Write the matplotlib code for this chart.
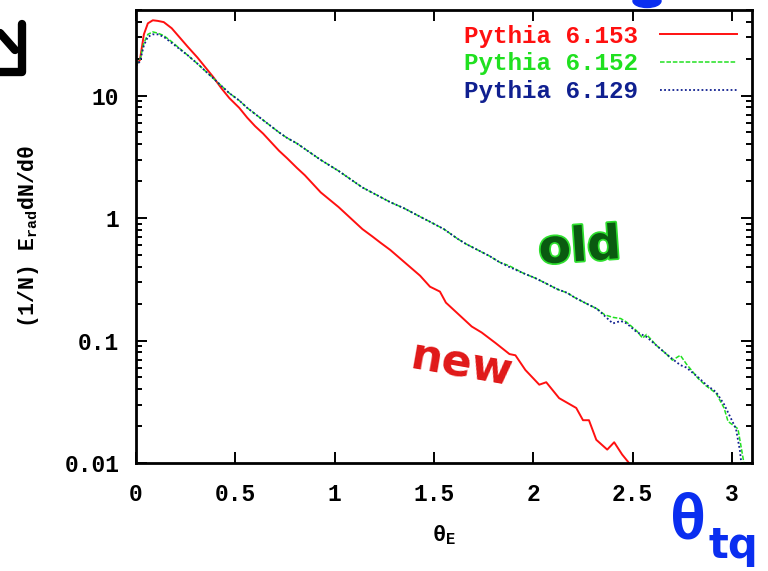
import numpy as np
import matplotlib
matplotlib.use('Agg')
import matplotlib.pyplot as plt
import matplotlib.patheffects as pe
from matplotlib.lines import Line2D
from matplotlib.patches import Ellipse
from matplotlib.ticker import FixedLocator, LogLocator, NullFormatter

plt.rcParams['font.family'] = ['Liberation Mono', 'DejaVu Sans Mono']
plt.rcParams['mathtext.fontset'] = 'custom'
plt.rcParams['mathtext.rm'] = 'Liberation Mono:bold'
plt.rcParams['mathtext.it'] = 'Liberation Mono:bold'

# theta_E and log10 of (1/N) E_rad dN/dtheta for each generator version
theta_new = [0.0, 0.02, 0.04, 0.06, 0.085, 0.11, 0.14, 0.18, 0.22, 0.26,
             0.31, 0.35, 0.39, 0.43, 0.47, 0.52, 0.56, 0.60, 0.64, 0.68,
             0.72, 0.76, 0.81, 0.85, 0.89, 0.93, 0.975, 1.02, 1.06, 1.10,
             1.14, 1.19, 1.23, 1.28, 1.33, 1.38, 1.43, 1.48, 1.53, 1.56,
             1.62, 1.69, 1.74, 1.81, 1.88, 1.91, 1.96, 2.03, 2.065, 2.13,
             2.216, 2.25, 2.28, 2.317, 2.372, 2.407, 2.447, 2.497, 2.55]
logy_new = [1.25, 1.29, 1.50, 1.59, 1.615, 1.61, 1.60, 1.55, 1.475, 1.40,
            1.31, 1.23, 1.15, 1.06, 0.98, 0.90, 0.82, 0.75, 0.69, 0.62,
            0.55, 0.49, 0.41, 0.35, 0.28, 0.21, 0.15, 0.09, 0.03, -0.03,
            -0.09, -0.15, -0.20, -0.26, -0.33, -0.40, -0.47, -0.56, -0.60, -0.69,
            -0.78, -0.885, -0.934, -1.02, -1.11, -1.12, -1.24, -1.36, -1.34, -1.47,
            -1.55, -1.65, -1.65, -1.81, -1.89, -1.83, -1.93, -2.03, -2.12]

theta_152 = [0.0, 0.02, 0.04, 0.06, 0.085, 0.11, 0.14, 0.18, 0.22, 0.26,
             0.31, 0.35, 0.39, 0.43, 0.47, 0.52, 0.56, 0.60, 0.64, 0.68,
             0.72, 0.76, 0.81, 0.85, 0.89, 0.93, 0.975, 1.02, 1.06, 1.10,
             1.14, 1.21, 1.28, 1.35, 1.42, 1.48, 1.55, 1.62, 1.66, 1.72,
             1.78, 1.83, 1.88, 1.95, 2.01, 2.06, 2.12, 2.17, 2.21, 2.27,
             2.32, 2.36, 2.40, 2.44, 2.47, 2.52, 2.55, 2.57, 2.62, 2.67,
             2.70, 2.74, 2.77, 2.83, 2.87, 2.92, 2.96, 2.98, 3.03, 3.06, 3.08]
logy_152 = [1.25, 1.29, 1.43, 1.50, 1.52, 1.51, 1.49, 1.44, 1.385, 1.33,
            1.26, 1.20, 1.14, 1.08, 1.02, 0.96, 0.90, 0.85, 0.80, 0.75,
            0.70, 0.655, 0.61, 0.565, 0.52, 0.475, 0.43, 0.385, 0.34, 0.295,
            0.25, 0.19, 0.13, 0.08, 0.02, -0.03, -0.09, -0.17, -0.21, -0.26,
            -0.31, -0.36, -0.39, -0.45, -0.49, -0.53, -0.58, -0.61, -0.65, -0.70,
            -0.74, -0.79, -0.81, -0.82, -0.85, -0.92, -0.98, -0.95, -1.04, -1.11,
            -1.16, -1.12, -1.19, -1.31, -1.37, -1.43, -1.55, -1.66, -1.72, -2.0, -2.2]

theta_129 = [0.0, 0.02, 0.04, 0.06, 0.085, 0.11, 0.14, 0.18, 0.22, 0.26,
             0.31, 0.35, 0.39, 0.43, 0.47, 0.52, 0.56, 0.60, 0.64, 0.68,
             0.72, 0.76, 0.81, 0.85, 0.89, 0.93, 0.975, 1.02, 1.06, 1.10,
             1.14, 1.21, 1.28, 1.35, 1.42, 1.48, 1.55, 1.62, 1.66, 1.72,
             1.78, 1.83, 1.88, 1.95, 2.01, 2.06, 2.12, 2.17, 2.21, 2.27,
             2.32, 2.36, 2.40, 2.44, 2.47, 2.52, 2.57, 2.62, 2.67, 2.70,
             2.74, 2.77, 2.83, 2.87, 2.92, 2.96, 2.99, 3.02, 3.04, 3.06]
logy_129 = [1.24, 1.28, 1.41, 1.48, 1.50, 1.50, 1.48, 1.43, 1.38, 1.33,
            1.26, 1.20, 1.14, 1.08, 1.02, 0.96, 0.90, 0.85, 0.80, 0.75,
            0.70, 0.655, 0.61, 0.565, 0.52, 0.475, 0.43, 0.385, 0.34, 0.295,
            0.25, 0.19, 0.13, 0.08, 0.02, -0.03, -0.09, -0.17, -0.21, -0.26,
            -0.31, -0.36, -0.40, -0.45, -0.49, -0.53, -0.58, -0.61, -0.65, -0.70,
            -0.74, -0.80, -0.86, -0.84, -0.86, -0.93, -0.97, -1.04, -1.11, -1.15,
            -1.20, -1.22, -1.30, -1.36, -1.42, -1.52, -1.62, -1.72, -1.90, -2.2]

series = [
    ('Pythia 6.153', theta_new, logy_new, '#ff1010', '-', 1.4),
    ('Pythia 6.152', theta_152, logy_152, '#20e020', (0, (3, 1.2)), 1.1),
    ('Pythia 6.129', theta_129, logy_129, '#102090', (0, (1, 1.3)), 1.3),
]

fig = plt.figure(figsize=(7.68, 5.71), dpi=100)
ax = fig.add_axes([0.177, 0.189, 0.802, 0.7935])

for label, x, ly, col, ls, lw in series:
    ax.plot(x, 10.0 ** np.array(ly), color=col, linestyle=ls, linewidth=lw,
            label=label)

ax.set_yscale('log')
ax.set_xlim(0, 3.1)
ax.set_ylim(0.01, 50)

ax.xaxis.set_major_locator(FixedLocator([0, 0.5, 1, 1.5, 2, 2.5, 3]))
ax.set_xticklabels(['0', '0.5', '1', '1.5', '2', '2.5', '3'])
ax.yaxis.set_major_locator(FixedLocator([0.01, 0.1, 1, 10]))
ax.set_yticklabels(['0.01', '0.1', '1', '10'])
ax.yaxis.set_minor_locator(LogLocator(base=10, subs=np.arange(2, 10)))
ax.yaxis.set_minor_formatter(NullFormatter())

ax.tick_params(which='both', direction='in', top=True, right=True,
               labelsize=16.5, width=1.4)
ax.tick_params(axis='x', pad=14)
ax.tick_params(axis='y', pad=12)
ax.tick_params(which='major', length=8)
ax.tick_params(which='minor', length=4)
for t in ax.get_xticklabels() + ax.get_yticklabels():
    t.set_fontweight('bold')
for s in ax.spines.values():
    s.set_linewidth(2.0)

ax.set_xlabel(r'$\theta_{\rm E}$', fontsize=16, labelpad=13)
ax.set_ylabel(r'(1/N) E$_{\rm rad}$dN/d$\theta$', fontsize=15.5,
              fontweight='bold', labelpad=17)

leg = ax.legend(loc='upper right', frameon=False, markerfirst=False,
                prop={'size': 17.5, 'weight': 'bold'}, handlelength=3.2,
                handletextpad=0.9, labelspacing=0.2, borderaxespad=0.2)
for txt, (_, _, _, col, _, _) in zip(leg.get_texts(), series):
    txt.set_color(col)

# handwritten notes on the page
fig.text(0.755, 0.565, 'old', color='#0a5a10', fontsize=34, fontweight='bold',
         family='DejaVu Sans', ha='center', va='center', rotation=4,
         path_effects=[pe.withStroke(linewidth=2.5, foreground='#2ee02e')])
fig.text(0.600, 0.360, 'new', color='#e01818', fontsize=32, fontweight='bold',
         family='DejaVu Sans', ha='center', va='center', rotation=-10)
fig.text(0.893, 0.088, r'$\theta$', color='#0a2ef0', fontsize=46,
         family='DejaVu Sans', ha='center', va='center')
fig.text(0.955, 0.044, 'tq', color='#0a2ef0', fontsize=30, fontweight='bold',
         family='DejaVu Sans', ha='center', va='center')

# ink marks in the corners of the page
W, H = 768.0, 571.0
fig.add_artist(Ellipse((647 / W, 1 - 1 / H), 28 / W, 13 / H,
                       transform=fig.transFigure, color='#0a2ef0'))
scribble = [([22 / W, 22 / W, 0], [1 - 24 / H, 1 - 72 / H, 1 - 72 / H]),
            ([0, 15 / W], [1 - 33 / H, 1 - 50 / H])]
for xs, ys in scribble:
    fig.add_artist(Line2D(xs, ys, transform=fig.transFigure, color='black',
                          linewidth=6, solid_capstyle='round'))

fig.savefig('out.png', dpi=100)
